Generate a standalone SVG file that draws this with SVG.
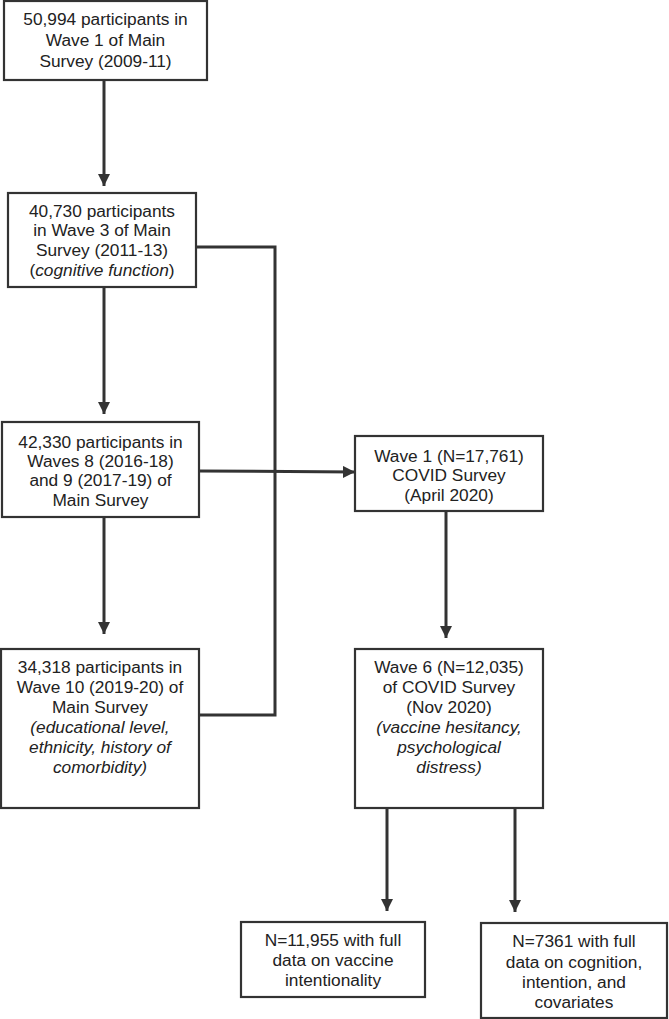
<svg xmlns="http://www.w3.org/2000/svg" width="669" height="1019" viewBox="0 0 669 1019">
<style>
.box{fill:#fff;stroke:#333;stroke-width:2.2}
text{font-family:"Liberation Sans",Arial,sans-serif;font-size:17.3px;fill:#222;text-anchor:middle}
.it{font-style:italic}
.c{fill:none;stroke:#333;stroke-width:3}
</style>
<defs>
<marker id="ah" markerUnits="userSpaceOnUse" markerWidth="14" markerHeight="14" refX="12" refY="6" orient="auto">
<path d="M0,0 L12,6 L0,12 Z" fill="#333"/>
</marker>
</defs>
<rect width="669" height="1019" fill="#fff"/>
<g id="connectors">
<line class="c" x1="104" y1="80" x2="104" y2="186" marker-end="url(#ah)"/>
<line class="c" x1="104" y1="287" x2="104" y2="414" marker-end="url(#ah)"/>
<line class="c" x1="104" y1="517" x2="104" y2="634" marker-end="url(#ah)"/>
<polyline class="c" points="196,247 275,247 275,715 199,715"/>
<line class="c" x1="199" y1="471" x2="355" y2="472" marker-end="url(#ah)"/>
<line class="c" x1="446" y1="511" x2="446" y2="638" marker-end="url(#ah)"/>
<line class="c" x1="387" y1="808" x2="387" y2="911" marker-end="url(#ah)"/>
<line class="c" x1="515" y1="808" x2="515" y2="912" marker-end="url(#ah)"/>
</g>
<g id="n1">
<rect class="box" x="4" y="1" width="203" height="79"/>
<text x="105.5" y="25">50,994 participants in</text>
<text x="105.5" y="46">Wave 1 of Main</text>
<text x="105.5" y="67">Survey (2009-11)</text>
</g>
<g id="n2">
<rect class="box" x="8" y="193" width="188" height="94"/>
<text x="102" y="217">40,730 participants</text>
<text x="102" y="236">in Wave 3 of Main</text>
<text x="102" y="256">Survey (2011-13)</text>
<text x="102" y="276">(<tspan class="it">cognitive function</tspan>)</text>
</g>
<g id="n3">
<rect class="box" x="2" y="422" width="197" height="95"/>
<text x="100.5" y="448">42,330 participants in</text>
<text x="100.5" y="467">Waves 8 (2016-18)</text>
<text x="100.5" y="486">and 9 (2017-19) of</text>
<text x="100.5" y="506">Main Survey</text>
</g>
<g id="n4">
<rect class="box" x="1" y="649" width="198" height="159"/>
<text x="100" y="673">34,318 participants in</text>
<text x="100" y="693">Wave 10 (2019-20) of</text>
<text x="100" y="713">Main Survey</text>
<text x="100" y="733" class="it">(educational level,</text>
<text x="100" y="753" class="it">ethnicity, history of</text>
<text x="100" y="773" class="it">comorbidity)</text>
</g>
<g id="n5">
<rect class="box" x="355" y="436" width="188" height="75"/>
<text x="449" y="462">Wave 1 (N=17,761)</text>
<text x="449" y="481">COVID Survey</text>
<text x="449" y="501">(April 2020)</text>
</g>
<g id="n6">
<rect class="box" x="355" y="649" width="188" height="159"/>
<text x="449" y="673">Wave 6 (N=12,035)</text>
<text x="449" y="693">of COVID Survey</text>
<text x="449" y="713">(Nov 2020)</text>
<text x="449" y="733" class="it">(vaccine hesitancy,</text>
<text x="449" y="753" class="it">psychological</text>
<text x="449" y="773" class="it">distress)</text>
</g>
<g id="n7">
<rect class="box" x="241" y="922" width="184" height="75"/>
<text x="333" y="946">N=11,955 with full</text>
<text x="333" y="966">data on vaccine</text>
<text x="333" y="986">intentionality</text>
</g>
<g id="n8">
<rect class="box" x="481" y="923" width="186" height="95"/>
<text x="574" y="947">N=7361 with full</text>
<text x="574" y="968">data on cognition,</text>
<text x="574" y="988">intention, and</text>
<text x="574" y="1008">covariates</text>
</g>
</svg>
